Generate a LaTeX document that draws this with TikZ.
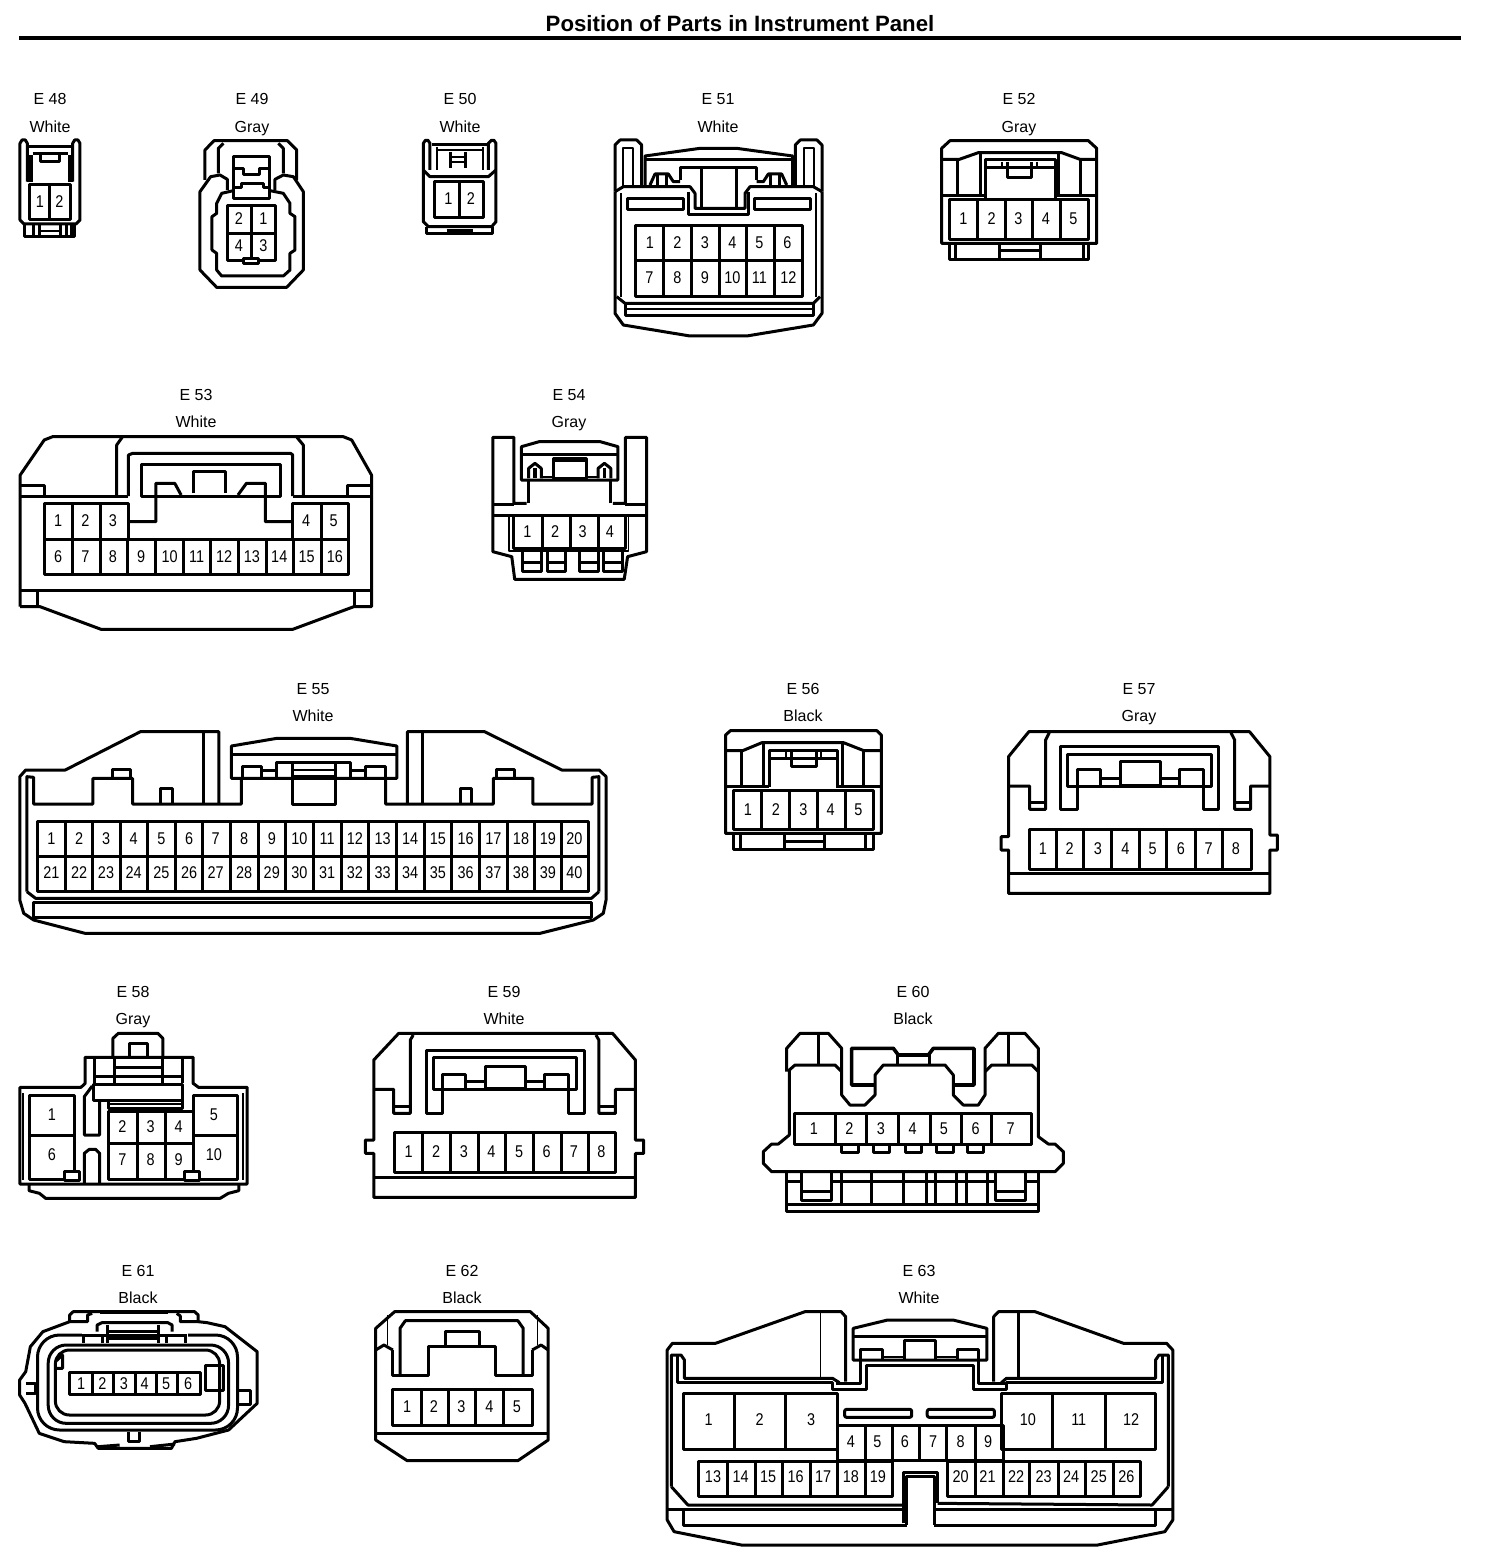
\documentclass[tikz,border=0pt]{standalone}
\usepackage{fontspec}
\setmainfont{Liberation Sans}
\newfontfamily\pinfont[FakeStretch=0.85]{Liberation Sans}
\tikzset{
  zm/.style n args={3}{shift={(#1,#2)},x=#3pt,y=-0.33333pt},
  pin/.style={inner sep=0pt,font=\pinfont\fontsize{17}{17}\selectfont},
  lab/.style={inner sep=0pt,anchor=base,font=\fontsize{16}{16}\selectfont},
  tn/.style={line width=1.8pt},
  thk/.style={line width=3.6pt},
}
\newcommand\pl[2][]{\draw[#1] plot coordinates {#2};}
\newcommand\plc[2][]{\draw[#1] plot coordinates {#2} -- cycle;}
\newcommand\pins[3]{\foreach \x/\l in {#3}{\node[pin] (#1p\l) at (\x,#2) {\l};}}
\newcommand\cellbox[5]{\draw (#1,#2) rectangle (#3,#4);\foreach \x in {#5}{\draw (\x,#2) -- (\x,#4);}}
\newcommand\tag[4]{\node[lab] (#1a) at (#2,#3+6) {#1};\node[lab] (#1b) at (#2,#3+33) {#4};}
\begin{document}
\begin{tikzpicture}[x=1pt,y=-1pt,line width=3pt,line join=round]
\fill[white] (0,0) rectangle (1504,1560);
\useasboundingbox (0,0) rectangle (1504,1560);
\node[inner sep=0pt,font=\bfseries\fontsize{22.2}{22}\selectfont] (title) at (740,24) {Position of Parts in Instrument Panel};
\draw[line width=4pt] (19,38) -- (1461,38);
\tag{E 48}{50}{99}{White}
\tag{E 49}{252}{99}{Gray}
\tag{E 50}{460}{99}{White}
\tag{E 51}{718}{99}{White}
\tag{E 52}{1019}{99}{Gray}
\tag{E 53}{196}{394}{White}
\tag{E 54}{569}{394}{Gray}
\tag{E 55}{313}{688}{White}
\tag{E 56}{803}{688}{Black}
\tag{E 57}{1139}{688}{Gray}
\tag{E 58}{133}{991}{Gray}
\tag{E 59}{504}{991}{White}
\tag{E 60}{913}{991}{Black}
\tag{E 61}{138}{1270}{Black}
\tag{E 62}{462}{1270}{Black}
\tag{E 63}{919}{1270}{White}

% ---------- row 1 left
\begin{scope}[zm={0}{80}{0.33333}]
% E48
\pl{(82,305)(82,190)(76,180)(66,180)(60,190)(60,420)(72,432)(228,432)(240,420)(240,190)(234,180)(224,180)(218,190)(218,305)}
\fill (82,225) rectangle (98,305);
\fill (205,225) rectangle (220,305);
\pl{(82,200)(218,200)}
\pl{(98,222)(205,222)}
\pl{(122,225)(122,245)(178,245)(178,225)}
\cellbox{90}{314}{212}{420}{150}
\pl{(75,432)(75,470)(225,470)(225,432)}
\foreach \x in {100,118,182,200,215}{\draw (\x,432) -- (\x,470);}
\pl[tn]{(118,452)(182,452)}
\pins{E48}{364}{120/1,178/2}
% E49
\pl{(615,300)(615,210)(642,182)(862,182)(890,210)(890,300)}
\pl{(655,280)(655,205)(670,190)}
\pl{(850,280)(850,205)(835,190)}
\pl{(682,330)(682,298)(660,285)(632,290)(600,335)(600,570)(650,622)(860,622)(910,570)(910,335)(880,290)(850,285)(825,298)(825,330)}
\pl{(700,332)(665,340)(650,370)(650,400)(636,410)(636,510)(650,520)(650,570)(665,588)(850,588)(870,570)(870,520)(885,510)(885,410)(870,400)(870,370)(850,340)(810,332)}
\draw (700,230) rectangle (810,355);
\pl{(700,265)(730,265)(730,285)(780,285)(780,265)(810,265)}
\pl{(700,322)(725,322)(725,310)(790,310)(790,322)(810,322)}
\draw (682,378) rectangle (828,542);
\draw (755,378) -- (755,542);
\draw (682,462) -- (828,462);
\draw[fill=white] (732,535) rectangle (776,552);
\pins{E49}{415}{717/2,790/1}
\pins{E49}{498}{717/4,790/3}
% E50
\pl{(1290,270)(1290,190)(1284,181)(1276,181)(1270,190)(1270,425)(1285,440)(1475,440)(1488,425)(1488,190)(1482,181)(1474,181)(1465,190)(1465,270)}
\pl{(1270,270)(1290,290)(1465,290)(1488,270)}
\pl{(1296,195)(1465,195)}
\pl[tn]{(1310,210)(1450,210)}
\pl[tn]{(1310,200)(1310,270)}
\pl[tn]{(1450,200)(1450,270)}
\pl{(1352,215)(1352,265)}
\pl{(1398,215)(1398,265)}
\pl[tn]{(1352,230)(1398,230)}
\pl[tn]{(1352,245)(1398,245)}
\cellbox{1305}{305}{1452}{412}{1378}
\pl{(1280,440)(1280,462)(1478,462)(1478,440)}
\pl[thk]{(1340,451)(1420,451)}
\pins{E50}{355}{1345/1,1413/2}
\end{scope}

% ---------- E51, E52
\begin{scope}[zm={600}{80}{0.33333}]
\pl{(45,335)(45,195)(60,180)(110,180)(125,195)(125,320)}
\pl{(666,335)(666,195)(651,180)(601,180)(586,195)(586,320)}
\pl[tn]{(68,320)(68,205)(100,205)(100,320)}
\pl[tn]{(643,320)(643,205)(611,205)(611,320)}
\pl{(135,315)(135,228)(300,205)(410,205)(578,228)(578,315)}
\pl{(135,240)(578,240)}
\pl{(240,300)(240,262)(470,262)(470,300)}
\pl{(305,262)(305,385)}
\pl{(410,262)(410,385)}
\pl{(150,315)(165,282)(205,282)(220,305)(240,305)}
\pl{(560,315)(545,282)(505,282)(490,305)(470,305)}
\pl{(172,282)(172,318)}\pl{(200,282)(200,318)}
\pl{(510,282)(510,318)}\pl{(538,282)(538,318)}
\pl{(45,335)(70,320)(270,320)(285,340)(285,385)(435,385)(435,340)(450,320)(640,320)(666,335)}
\pl{(265,335)(265,405)(445,405)(445,335)}
\draw (82,355) rectangle (250,388);
\draw (462,355) rectangle (630,388);
\pl{(45,335)(45,700)(70,735)(270,768)(440,768)(640,735)(666,700)(666,335)}
\pl[tn]{(62,340)(62,650)}
\pl[tn]{(649,340)(649,650)}
\pl{(50,650)(75,670)(640,670)(660,650)}
\pl[tn]{(75,688)(640,688)}
\pl{(75,670)(75,708)(640,708)(640,670)}
\draw (105,437) rectangle (607,650);
\foreach \x in {190,275,358,440,522}{\draw (\x,437) -- (\x,650);}
\draw (105,542) -- (607,542);
\pins{E51}{487}{150/1,232/2,315/3,397/4,478/5,562/6}
\pins{E51}{592}{148/7,232/8,315/9,397/10,478/11,565/12}
% E52
\plc{(1025,490)(1025,205)(1050,182)(1465,182)(1490,205)(1490,490)}
\pl{(1025,238)(1078,238)(1135,218)(1385,218)(1440,238)(1490,238)}
\foreach \x/\y in {1072/238,1140/218,1375/218,1440/238}{\draw (\x,\y) -- (\x,345);}
\pl{(1025,348)(1155,348)}\pl{(1365,348)(1490,348)}
\pl{(1155,355)(1155,240)(1365,240)(1365,355)}
\pl{(1155,262)(1365,262)}
\pl{(1222,245)(1222,292)(1295,292)(1295,245)}
\pl[tn]{(1205,245)(1205,262)}\pl[tn]{(1310,245)(1310,262)}
\cellbox{1048}{360}{1465}{480}{1132,1215,1298,1380}
\pl{(1048,490)(1048,538)(1465,538)(1465,490)}
\foreach \x in {1065,1198,1320,1450}{\draw (\x,490) -- (\x,538);}
\pl{(1198,512)(1320,512)}
\pins{E52}{415}{1090/1,1175/2,1255/3,1338/4,1420/5}
\end{scope}

% ---------- E53, E54
\begin{scope}[zm={0}{380}{0.4212}]
\pl{(48,680)(48,285)(105,180)(125,170)(815,170)(835,180)(882,285)(882,680)(840,680)(695,748)(240,748)(95,680)(48,680)}
\pl{(48,315)(105,315)(105,348)}
\pl{(882,315)(825,315)(825,348)}
\pl{(48,348)(305,348)}\pl{(695,348)(882,348)}
\pl{(277,348)(277,195)(290,172)}
\pl{(720,348)(720,195)(705,172)}
\pl{(305,348)(305,225)(315,220)(690,220)(695,225)(695,348)}
\plc{(337,348)(337,252)(665,252)(665,348)}
\pl{(305,425)(370,425)(370,310)(415,310)(430,345)}
\pl{(695,425)(630,425)(630,310)(585,310)(565,345)}
\pl{(460,340)(460,275)(535,275)(535,340)}
\plc{(105,370)(305,370)(305,478)(695,478)(695,370)(828,370)(828,583)(105,583)}
\foreach \x in {172,238,763}{\draw (\x,370) -- (\x,583);}
\foreach \x in {303,370,435,500,567,632,697}{\draw (\x,478) -- (\x,583);}
\draw (105,478) -- (828,478);
\pins{E53}{422}{138/1,203/2,268/3,727/4,792/5}
\pins{E53}{530}{138/6,203/7,268/8,335/9,403/10,467/11,532/12,598/13,663/14,728/15,795/16}
\draw (48,630) -- (882,630);
\pl{(88,630)(88,680)}\pl{(842,630)(842,680)}
% E54
\pl{(1250,370)(1220,370)(1220,172)(1170,172)(1170,515)(1215,530)(1222,598)(1482,598)(1490,530)(1535,515)(1535,172)(1485,172)(1485,370)(1455,370)}
\pl{(1255,370)(1255,300)}\pl{(1450,370)(1450,300)}
\plc{(1238,300)(1238,200)(1280,185)(1425,185)(1467,200)(1467,300)}
\pl{(1238,222)(1467,222)}
\pl{(1255,295)(1255,265)(1270,250)(1285,265)(1285,295)}
\pl[thk]{(1270,265)(1270,295)}
\pl{(1420,295)(1420,265)(1435,250)(1450,265)(1450,295)}
\pl[thk]{(1435,265)(1435,295)}
\draw (1315,235) rectangle (1392,295);
\pl[tn]{(1315,243)(1392,243)}
\pl[tn]{(1285,290)(1315,290)}\pl[tn]{(1392,290)(1420,290)}
\draw (1170,372) -- (1220,372);\draw (1485,372) -- (1535,372);
\draw (1170,405) -- (1535,405);
\draw[tn] (1208,405) rectangle (1492,512);
\cellbox{1218}{405}{1485}{505}{1287,1355,1420}
\pins{E54}{455}{1252/1,1318/2,1383/3,1448/4}
\foreach \a/\b in {1240/1285,1300/1342,1375/1420,1432/1478}{\pl{(\a,515)(\a,575)(\b,575)(\b,515)}\pl{(\a,548)(\b,548)}}
\end{scope}

% ---------- E55
\begin{scope}[zm={0}{680}{0.3956}]
\pl{(553,370)(553,155)(355,155)(165,270)(65,270)(50,290)(50,660)(60,700)(85,720)(215,760)(1365,760)(1500,720)(1525,700)(1532,660)(1532,290)(1515,270)(1420,270)(1225,155)(1030,155)(1030,370)}
\pl{(515,155)(515,370)}\pl{(1068,155)(1068,370)}
\pl{(68,635)(68,290)(85,292)(85,372)(235,372)(235,295)(335,295)(335,372)(610,372)(610,295)}
\pl{(1514,635)(1514,290)(1497,292)(1497,372)(1347,372)(1347,295)(1247,295)(1247,372)(975,372)(975,295)}
\pl{(285,295)(285,268)(330,268)(330,295)}
\pl{(1255,295)(1255,268)(1300,268)(1300,295)}
\pl{(405,372)(405,325)(435,325)(435,372)}
\pl{(1165,372)(1165,325)(1193,325)(1193,372)}
\plc{(585,295)(585,198)(700,175)(885,175)(1003,198)(1003,295)}
\pl{(585,222)(1003,222)}
\pl{(612,292)(612,258)(662,258)(662,292)}
\pl{(925,292)(925,258)(975,258)(975,292)}
\pl{(700,290)(700,248)(885,248)(885,290)}
\pl{(740,248)(740,372)(848,372)(848,248)}
\pl[tn]{(740,270)(845,270)}
\pl{(740,290)(845,290)}
\pl{(662,272)(700,272)}\pl{(885,272)(925,272)}
\draw (95,425) rectangle (1487,635);
\foreach \x in {165,235,305,373,443,513,583,653,722,793,862,932,1002,1072,1142,1212,1282,1352,1420}{\draw (\x,425) -- (\x,635);}
\draw (95,528) -- (1487,528);
\pins{E55}{475}{130/1,200/2,268/3,338/4,408/5,478/6,545/7,617/8,687/9,757/10,827/11,897/12,967/13,1037/14,1107/15,1177/16,1247/17,1317/18,1385/19,1452/20}
\pins{E55}{578}{130/21,200/22,268/23,338/24,408/25,478/26,545/27,617/28,687/29,757/30,827/31,897/32,967/33,1037/34,1107/35,1177/36,1247/37,1317/38,1385/39,1452/40}
\pl{(68,635)(90,655)(1495,655)(1514,635)}
\plc{(85,668)(1495,668)(1495,712)(85,712)}
\end{scope}

% ---------- E56, E57
\begin{scope}[zm={710}{680}{0.3708}]
\plc{(42,460)(42,165)(55,152)(450,152)(462,165)(462,460)}
\pl{(42,212)(88,212)(140,188)(360,188)(415,212)(462,212)}
\foreach \x/\y in {85/212,145/188,358/188,415/212}{\draw (\x,\y) -- (\x,315);}
\pl{(42,320)(160,320)}\pl{(340,320)(462,320)}
\pl{(160,322)(160,212)(345,212)(345,322)}
\pl{(160,235)(345,235)}
\pl{(220,215)(220,260)(288,260)(288,215)}
\pl[tn]{(205,215)(205,235)}\pl[tn]{(300,215)(300,235)}
\cellbox{62}{330}{440}{447}{140,215,290,365}
\pins{E56}{388}{102/1,178/2,252/3,325/4,400/5}
\pl{(62,460)(62,508)(440,508)(440,460)}
\foreach \x in {82,200,310,420}{\draw (\x,460) -- (\x,508);}
\pl{(200,485)(310,485)}
% E57
\plc{(805,640)(805,510)(785,510)(785,470)(805,470)(805,230)(860,155)(1455,155)(1510,230)(1510,465)(1530,465)(1530,510)(1510,510)(1510,640)}
\pl{(805,318)(862,318)(862,388)(905,388)(905,180)(915,158)}
\pl{(1510,318)(1458,318)(1458,388)(1415,388)(1415,180)(1405,158)}
\pl{(862,368)(905,368)}\pl{(1415,368)(1458,368)}
\pl{(1265,315)(1265,268)(1330,268)(1330,388)(1372,388)(1372,198)(945,198)(945,388)(990,388)(990,268)(1052,268)(1052,315)}
\plc{(965,320)(965,222)(1352,222)(1352,320)}
\draw (1108,245) rectangle (1215,315);
\pl{(1052,295)(1108,295)}\pl{(1215,295)(1265,295)}
\cellbox{862}{448}{1460}{568}{935,1008,1083,1158,1232,1308,1382}
\pins{E57}{505}{898/1,970/2,1046/3,1120/4,1194/5,1270/6,1345/7,1418/8}
\draw (805,580) -- (1510,580);
\end{scope}

% ---------- E58, E59
\begin{scope}[zm={0}{980}{0.4153}]
\plc{(48,322)(195,322)(205,310)(205,232)(465,232)(465,310)(478,322)(595,322)(595,612)(48,612)}
\pl{(272,232)(272,175)(285,160)(380,160)(392,175)(392,232)}
\pl{(312,232)(312,190)(355,190)(355,232)}
\foreach \x in {228,275,392,440}{\draw (\x,232) -- (\x,310);}
\pl{(275,262)(392,262)}
\pl{(228,290)(440,290)}
\draw[fill=white] (225,312) rectangle (440,360);
\pl{(262,360)(262,385)(440,385)(440,360)}
\pl[tn]{(262,372)(440,372)}
\pl{(222,318)(203,350)(203,465)(240,465)(240,365)}
\pl{(203,612)(203,520)(215,508)(230,508)(240,520)(240,612)}
\draw (72,345) rectangle (180,598);\draw (72,465) -- (180,465);
\draw (465,345) rectangle (572,598);\draw (465,465) -- (572,465);
\pl[tn]{(56,340)(56,600)}\pl[tn]{(585,340)(585,600)}
\cellbox{262}{395}{465}{598}{330,398}
\draw (262,490) -- (465,490);
\draw[fill=white] (155,575) rectangle (192,602);
\draw[fill=white] (445,575) rectangle (480,602);
\pl{(70,612)(70,632)(95,640)(110,655)(530,655)(550,640)(575,632)(575,612)}
\pins{E58}{405}{125/1,515/5}
\pins{E58}{525}{125/6,515/10}
\pins{E58}{439}{295/2,363/3,430/4}
\pins{E58}{540}{295/7,363/8,430/9}
% E59
\plc{(900,652)(900,520)(880,520)(880,480)(900,480)(900,240)(960,160)(1475,160)(1530,240)(1530,480)(1550,480)(1550,520)(1530,520)(1530,652)}
\pl{(900,328)(948,328)(948,400)(988,400)(988,180)(995,165)}
\pl{(1530,328)(1482,328)(1482,400)(1442,400)(1442,180)(1435,165)}
\pl{(948,378)(988,378)}\pl{(1442,378)(1482,378)}
\pl{(1312,325)(1312,282)(1370,282)(1370,400)(1408,400)(1408,210)(1028,210)(1028,400)(1065,400)(1065,282)(1122,282)(1122,325)}
\plc{(1045,328)(1045,232)(1388,232)(1388,328)}
\draw (1170,258) rectangle (1265,325);
\pl{(1122,305)(1170,305)}\pl{(1265,305)(1312,305)}
\cellbox{950}{458}{1482}{578}{1018,1085,1152,1218,1285,1352,1418}
\pins{E59}{515}{984/1,1050/2,1117/3,1183/4,1250/5,1316/6,1382/7,1448/8}
\draw (900,592) -- (1530,592);
\end{scope}

% ---------- E60
\begin{scope}[zm={750}{980}{0.33333}]
\pl{(110,275)(110,205)(150,160)(235,160)(275,205)(275,345)(300,375)(345,375)(375,345)(375,285)(400,255)(585,255)(610,285)(610,345)(640,375)(685,375)(705,345)(705,205)(745,160)(825,160)(865,205)(865,470)(895,492)(915,492)(940,515)(940,550)(915,575)(65,575)(40,550)(40,515)(65,492)(85,492)(118,465)(118,270)(135,255)(255,255)(275,275)}
\pl{(705,275)(725,255)(845,255)(865,275)}
\pl{(205,160)(205,255)}\pl{(775,160)(775,255)}
\pl[thk]{(375,315)(305,315)(305,205)(430,205)(445,225)(535,225)(550,205)(672,205)(672,315)(610,315)}
\pl{(442,225)(442,255)}\pl{(537,225)(537,255)}
\cellbox{132}{400}{845}{492}{255,348,445,540,635,725}
\pins{E60}{445}{192/1,298/2,393/3,488/4,582/5,677/6,782/7}
\foreach \a/\b in {275/325,370/418,465/515,558/610,652/700}{\pl{(\a,492)(\a,518)(\b,518)(\b,492)}}
\pl{(110,575)(110,695)(865,695)(865,575)}
\draw (110,605) -- (155,605);\draw (243,605) -- (735,605);\draw (825,605) -- (865,605);
\draw (110,672) -- (865,672);
\foreach \x in {275,365,460,530,555,618,650,712}{\draw (\x,575) -- (\x,672);}
\pl{(155,575)(155,660)(243,660)(243,575)}
\pl{(155,635)(243,635)}
\pl{(735,575)(735,660)(825,660)(825,575)}
\pl{(735,635)(825,635)}
\end{scope}

% ---------- E61, E62
\begin{scope}[zm={0}{1260}{0.35714}]
\plc{(195,185)(195,165)(205,155)(545,155)(555,165)(555,185)(580,188)(630,200)(720,275)(720,430)(640,510)(550,535)(490,545)(480,565)(275,565)(265,550)(180,545)(110,520)(70,430)(55,405)(55,360)(72,335)(85,260)(120,215)}
\pl{(195,185)(245,185)(245,165)(258,160)}
\pl{(555,185)(505,185)(505,168)(495,160)}
\pl[thk]{(280,158)(470,158)}
\draw[rounded corners=22pt] (105,225) rectangle (665,510);
\draw[rounded corners=18pt] (135,255) rectangle (640,490);
\draw[rounded corners=14pt] (155,270) rectangle (615,465);
\fill[white] (230,215) rectangle (525,250);
\pl{(272,215)(272,195)(285,188)(470,188)(482,195)(482,215)}
\pl{(235,225)(520,225)}
\foreach \x in {235,288,300,445,465,520}{\draw (\x,222) -- (\x,250);}
\foreach \x in {300,445}{\draw (\x,195) -- (\x,250);}
\pl{(305,215)(445,215)}\pl{(305,235)(445,235)}
\cellbox{195}{338}{560}{403}{258,318,378,438,498}
\pins{E61}{372}{227/1,287/2,347/3,405/4,465/5,527/6}
\draw (575,315) rectangle (625,390);
\pl{(72,370)(100,370)(100,400)(72,400)}
\pl{(665,392)(700,392)(700,432)(668,432)}
\pl{(360,515)(360,545)(390,545)(390,515)}
\pl{(275,560)(335,555)}\pl{(420,560)(490,552)}
\pl{(160,325)(175,325)(175,285)(158,302)}
% E62
\plc{(1052,540)(1052,205)(1105,155)(1485,155)(1535,205)(1535,540)(1450,602)(1140,602)}
\draw (1052,520) -- (1535,520);
\pl{(1120,345)(1120,205)(1135,182)(1450,182)(1465,205)(1465,345)}
\pl{(1100,270)(1100,345)(1200,345)(1200,260)(1388,260)(1388,345)(1490,345)(1490,270)}
\pl{(1247,260)(1247,213)(1343,213)(1343,260)}
\pl{(1052,270)(1075,255)(1100,270)}
\pl{(1490,270)(1515,255)(1535,270)}
\pl[tn]{(1085,165)(1085,255)}\pl[tn]{(1505,165)(1505,255)}
\cellbox{1100}{388}{1490}{497}{1180,1255,1332,1410}
\pins{E62}{440}{1140/1,1215/2,1292/3,1370/4,1447/5}
\end{scope}

% ---------- E63
\begin{scope}[zm={650}{1260}{0.34439}]
\pl{(568,365)(568,170)(555,155)(450,155)(190,250)(65,250)(50,270)(50,780)(70,815)(265,855)(1300,855)(1495,815)(1518,780)(1518,270)(1500,250)(1375,250)(1118,155)(1012,155)(998,170)(998,365)}
\pl[tn]{(495,155)(495,350)}\pl{(1070,155)(1070,350)}
\pl{(62,680)(62,285)(90,285)(100,300)(100,355)(530,355)(550,368)}
\pl{(80,285)(80,368)(530,368)(530,388)(630,388)(630,315)(940,315)(940,388)(1035,388)(1035,368)(1488,368)(1488,285)}
\pl{(1020,368)(1035,355)(1468,355)(1468,300)(1478,285)(1505,285)(1505,680)}
\pl{(540,370)(610,370)(610,300)}
\pl{(955,300)(955,370)(1030,370)}
\plc{(590,300)(590,205)(690,180)(880,180)(978,205)(978,300)}
\pl{(590,228)(978,228)}
\pl{(612,298)(612,268)(675,268)(675,298)}
\pl{(892,298)(892,268)(955,268)(955,298)}
\pl{(738,298)(738,240)(830,240)(830,298)}
\pl[tn]{(675,292)(738,292)}\pl[tn]{(830,292)(892,292)}
\cellbox{97}{400}{545}{568}{245,392}
\pins{E63}{480}{170/1,318/2,468/3,1097/10,1245/11,1397/12}
\cellbox{1022}{400}{1468}{568}{1170,1322}
\draw[rounded corners=2pt] (565,448) rectangle (760,472);
\draw[rounded corners=2pt] (805,448) rectangle (1000,472);
\cellbox{545}{495}{1025}{600}{625,705,783,862,945}
\pins{E63}{545}{583/4,660/5,740/6,822/7,902/8,982/9}
\cellbox{142}{603}{705}{708}{225,305,385,465,545,625}
\pins{E63}{650}{183/13,263/14,343/15,423/16,503/17,583/18,662/19}
\cellbox{865}{603}{1425}{708}{945,1025,1103,1185,1265,1345}
\pins{E63}{650}{902/20,980/21,1063/22,1143/23,1223/24,1303/25,1383/26}
\pl{(735,790)(735,638)(835,638)(835,730)}
\pl{(745,795)(745,650)(825,650)(825,795)}
\pl{(62,680)(110,735)(735,735)}
\pl{(835,730)(1458,735)(1505,680)}
\pl{(50,748)(745,748)}\pl{(825,748)(1518,748)}
\pl{(97,750)(97,795)(745,795)}
\pl{(825,795)(1468,795)(1468,750)}
\end{scope}
\end{tikzpicture}
\end{document}
